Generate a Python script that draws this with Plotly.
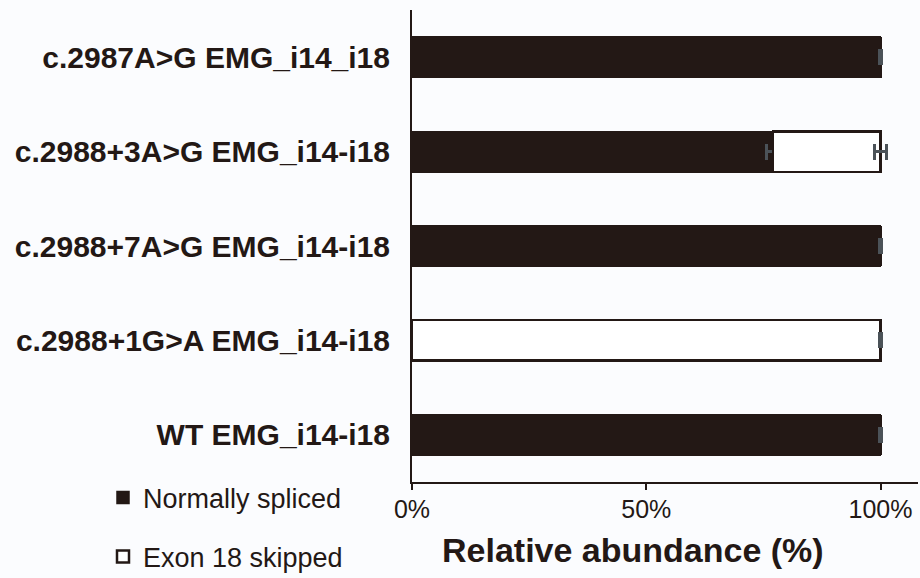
import plotly.graph_objects as go

categories = [
    "c.2987A>G EMG_i14_i18",
    "c.2988+3A>G EMG_i14-i18",
    "c.2988+7A>G EMG_i14-i18",
    "c.2988+1G>A EMG_i14-i18",
    "WT EMG_i14-i18",
]
normally_spliced = [100, 77, 100, 0, 100]
normally_spliced_err = [0.2, 1.4, 0.2, 0.0, 0.2]
exon18_skipped = [0, 23, 0, 100, 0]
exon18_skipped_err = [0.0, 1.2, 0.0, 0.2, 0.0]
x_ticks = [0, 50, 100]
x_ticklabels = ["0%", "50%", "100%"]

DARK = "#231815"
ERR = "#4b5258"
BG = "#fbfcfe"

fig = go.Figure()
fig.add_trace(go.Bar(
    y=categories, x=normally_spliced, orientation="h", name="Normally spliced",
    marker=dict(color=DARK, line=dict(color=DARK, width=1.5)),
    error_x=dict(type="data", array=normally_spliced_err, color=ERR, thickness=3, width=8),
    width=0.43, legend="legend",
))
fig.add_trace(go.Bar(
    y=categories, x=exon18_skipped, orientation="h", name="Exon 18 skipped",
    marker=dict(color="white", line=dict(color=DARK, width=2.5)),
    error_x=dict(type="data", array=exon18_skipped_err, color=ERR, thickness=3, width=8),
    width=0.43, legend="legend2",
))

W, H = 920, 578
L, R, T, B = 412, 2, 10, 96
pw, ph = W - L - R, H - T - B

def px_x(x):
    return (x - L) / pw

def px_y(y):
    return (H - B - y) / ph

fig.update_layout(
    width=W, height=H,
    margin=dict(l=L, r=R, t=T, b=B, autoexpand=False),
    paper_bgcolor=BG, plot_bgcolor=BG,
    barmode="stack",
    font=dict(family="Liberation Sans, Arial", color=DARK),
    showlegend=True,
    legend=dict(x=px_x(103), y=px_y(498), xanchor="left", yanchor="middle",
                font=dict(size=27, color=DARK), itemwidth=30, bgcolor="rgba(0,0,0,0)",
                borderwidth=0, tracegroupgap=0),
    legend2=dict(x=px_x(103), y=px_y(557), xanchor="left", yanchor="middle",
                 font=dict(size=27, color=DARK), itemwidth=30, bgcolor="rgba(0,0,0,0)",
                 borderwidth=0),
    xaxis=dict(range=[0, 108], tickvals=x_ticks, ticktext=x_ticklabels,
               showgrid=False, zeroline=False, showline=True, linecolor=DARK, linewidth=2,
               ticks="outside", ticklen=6, tickwidth=2, tickcolor=DARK,
               tickfont=dict(size=25, color=DARK), ticklabelstandoff=-2, fixedrange=True),
    yaxis=dict(autorange="reversed", categoryorder="array", categoryarray=categories,
               showgrid=False, zeroline=False, showline=True, linecolor=DARK, linewidth=2,
               ticks="", tickfont=dict(size=30, color=DARK, family="Liberation Sans, Arial"),
               ticklabelstandoff=14, fixedrange=True),
    annotations=[dict(text="<b>Relative abundance (%)</b>", xref="paper", yref="paper",
                      x=px_x(633), y=px_y(550), xanchor="center", yanchor="middle",
                      showarrow=False, font=dict(size=34, color=DARK))],
)
fig.update_yaxes(ticktext=["<b>%s</b>" % c for c in categories], tickvals=categories)

fig.write_html("out.html", config={"displayModeBar": False},
               post_script="document.body.style.margin='0';document.body.style.overflow='hidden';")
